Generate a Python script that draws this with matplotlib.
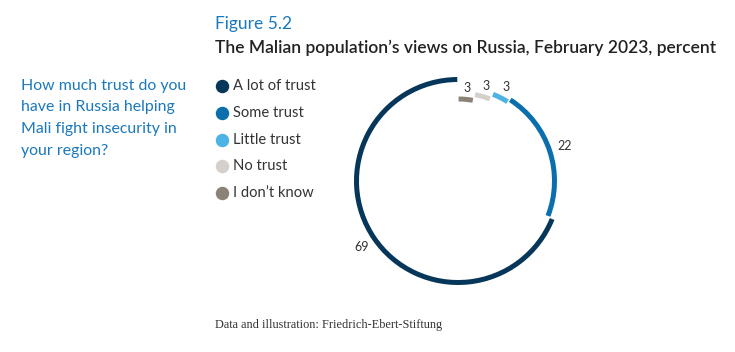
import numpy as np
import matplotlib.pyplot as plt
from matplotlib.patches import Wedge

# data, in legend order
categories = ["A lot of trust", "Some trust", "Little trust", "No trust", "I don't know"]
shares = [69, 22, 3, 3, 3]
colors = ["#06375a", "#0a6fac", "#4db3e4", "#d6d0cd", "#8b8377"]

question_lines = ["How much trust do you", "have in Russia helping",
                  "Mali fight insecurity in", "your region?"]

W, H = 735, 352
fig = plt.figure(figsize=(W / 100, H / 100), dpi=100)
ax = fig.add_axes([0, 0, 1, 1])
ax.set_xlim(0, W)
ax.set_ylim(H, 0)
ax.set_aspect("equal")
ax.axis("off")

sans = ["Lato", "DejaVu Sans"]
blue_txt = "#1a78bd"
dark_txt = "#333333"

ax.text(215, 24, "Figure 5.2", color=blue_txt, fontsize=12.5, family=sans,
        va="center", ha="left")
ax.text(215, 48, "The Malian population\u2019s views on Russia, February 2023, percent",
        color="#222222", fontsize=12.5, family=sans, fontweight="semibold",
        va="center", ha="left")

for i, line in enumerate(question_lines):
    ax.text(21, 86 + i * 21.5, line, color=blue_txt, fontsize=11.4, family=sans,
            va="center", ha="left")

# legend
for i, (cat, col) in enumerate(zip(categories, colors)):
    y = 86 + i * 26.8
    ax.scatter([222], [y], s=75, color=col, zorder=3)
    ax.text(233, y, cat.replace("'", "\u2019"), color=dark_txt, fontsize=10.6,
            family=sans, va="center", ha="left")

# ring: drawn clockwise from the top, in reverse legend order
cx, cy = 458, 181
radii = [101.5, 96.5, 93.5, 88, 82]  # per-segment ring radius (spiral look)
label_pad = [15.5, 15.5, 11.5, 11, 11]
thick = 5
gap = 0.8
start = 0.0
for idx in reversed(range(len(shares))):
    span = shares[idx] / sum(shares) * 360
    a1, a2 = start + gap / 2, start + span - gap / 2
    r = radii[idx]
    ax.add_patch(Wedge((cx, cy), r + thick / 2, a1 - 90, a2 - 90, width=thick,
                       facecolor=colors[idx], edgecolor="none"))
    mid = np.deg2rad((a1 + a2) / 2)
    rl = r + label_pad[idx]
    ax.text(cx + rl * np.sin(mid), cy - rl * np.cos(mid), str(shares[idx]),
            color=dark_txt, fontsize=9, family=sans, ha="center", va="center")
    start += span

ax.text(215, 325, "Data and illustration: Friedrich-Ebert-Stiftung", color=dark_txt,
        fontsize=8.8, family=["Liberation Serif", "DejaVu Serif"], va="center", ha="left")

fig.savefig("out.png", dpi=100)
